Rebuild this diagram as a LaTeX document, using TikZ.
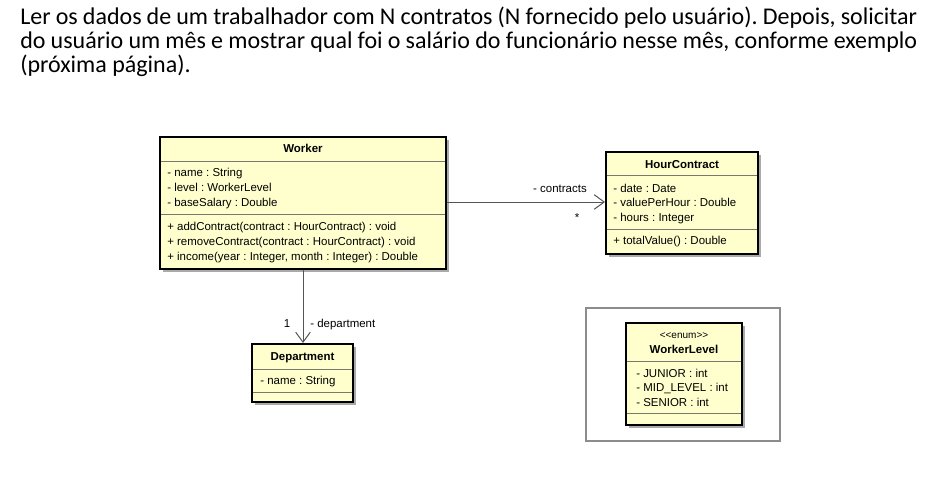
\documentclass[tikz,border=0pt]{standalone}
\usepackage{fontspec}
\setmainfont{Liberation Sans}
\newfontfamily\titlefont{Carlito}
\usetikzlibrary{arrows.meta,fit}
\definecolor{umlfill}{RGB}{255,255,206}
\definecolor{umlsep}{RGB}{120,120,110}
\definecolor{umlline}{RGB}{85,85,85}
\definecolor{shadowc}{RGB}{170,170,170}
\definecolor{framec}{RGB}{140,140,140}
\frenchspacing
\begin{document}
\begin{tikzpicture}[x=0.75pt,y=-0.75pt,
  classbox/.style={draw=black, line width=1.5pt, fill=umlfill, inner sep=0pt, rectangle},
  shade/.style={fill=shadowc},
  sepline/.style={draw=umlsep, line width=0.75pt},
  txt/.style={anchor=west, inner sep=0pt, text height=6.4pt, text depth=1.6pt, font=\fontsize{8.6}{10}\selectfont},
  ttl/.style={inner sep=0pt, text height=6.4pt, text depth=1.6pt, font=\bfseries\fontsize{8.6}{10}\selectfont},
  lbl/.style={inner sep=0pt, text height=6.4pt, text depth=1.6pt, font=\fontsize{8.6}{10}\selectfont},
  assoc/.style={draw=umlline, line width=0.75pt, -{Straight Barb[length=7.5pt,width=11pt,line width=0.75pt]}},
  headtxt/.style={anchor=base west, inner sep=0pt, font=\titlefont\fontsize{18}{21}\selectfont}
]
\useasboundingbox (0,0) rectangle (929,489);

% heading
\node[headtxt] (l1) at (20,24) {\makebox[672.75pt][s]{Ler os dados de um trabalhador com N contratos (N fornecido pelo usuário). Depois, solicitar}};
\node[headtxt] (l2) at (20,48) {\makebox[672.75pt][s]{do usuário um mês e mostrar qual foi o salário do funcionário nesse mês, conforme exemplo}};
\node[headtxt] (l3) at (20,72) {(próxima página).};

% Worker
\fill[shade] (163,140) rectangle (449,272);
\node[classbox, fit={(160,137)(446,269)}] (worker) {};
\draw[sepline] (161,161) -- (445,161);
\draw[sepline] (161,214) -- (445,214);
\node[ttl] (wt) at (303,149.5) {Worker};
\node[txt] (wa1) at (167,173) {- name : String};
\node[txt] (wa2) at (167,188) {- level : WorkerLevel};
\node[txt] (wa3) at (167,203) {- baseSalary : Double};
\node[txt] (wm1) at (167,227) {+ addContract(contract : HourContract) : void};
\node[txt] (wm2) at (167,242) {+ removeContract(contract : HourContract) : void};
\node[txt] (wm3) at (167,257) {+ income(year : Integer, month : Integer) : Double};

% HourContract
\fill[shade] (609,155) rectangle (761,257);
\node[classbox, fit={(606,152)(758,254)}] (hc) {};
\draw[sepline] (607,175) -- (757,175);
\draw[sepline] (607,229) -- (757,229);
\node[ttl] (hct) at (682,165) {HourContract};
\node[txt] (ha1) at (613,189) {- date : Date};
\node[txt] (ha2) at (613,203.5) {- valuePerHour : Double};
\node[txt] (ha3) at (613,218) {- hours : Integer};
\node[txt] (hm1) at (613,241) {+ totalValue() : Double};

% Department
\fill[shade] (255,347) rectangle (356,405);
\node[classbox, fit={(252,344)(353,402)}] (dept) {};
\draw[sepline] (253,369) -- (352,369);
\draw[sepline] (253,392) -- (352,392);
\node[ttl] (dt) at (302.5,357) {Department};
\node[txt] (da1) at (260,381) {- name : String};

% enum frame
\draw[draw=framec, line width=1.1pt] (586,308) rectangle (780,441);
\fill[shade] (629,326) rectangle (745,428);
\node[classbox, fit={(626,323)(742,425)}] (wl) {};
\draw[sepline] (627,361) -- (741,361);
\draw[sepline] (627,413) -- (741,413);
\node[lbl, font=\fontsize{7.5}{9}\selectfont] (wls) at (684,335) {<{}<enum>{}>};
\node[ttl] (wlt) at (684,350.5) {WorkerLevel};
\node[txt] (wa1e) at (636,374) {- JUNIOR : int};
\node[txt] (wa2e) at (636,388.5) {- MID\_LEVEL : int};
\node[txt] (wa3e) at (636,403) {- SENIOR : int};

% connectors
\coordinate (cy) at (0,202);
\draw[assoc] (worker.east |- cy) -- (hc.west |- cy);
\node[lbl] (clbl) at (560,189) {- contracts};
\node[lbl] (cstar) at (577,218) {*};
\draw[assoc] (worker.south) -- (worker.south |- dept.north);
\node[lbl] (done) at (287,324) {1};
\node[lbl, anchor=west] (dlbl) at (310,324) {- department};
\end{tikzpicture}
\end{document}
